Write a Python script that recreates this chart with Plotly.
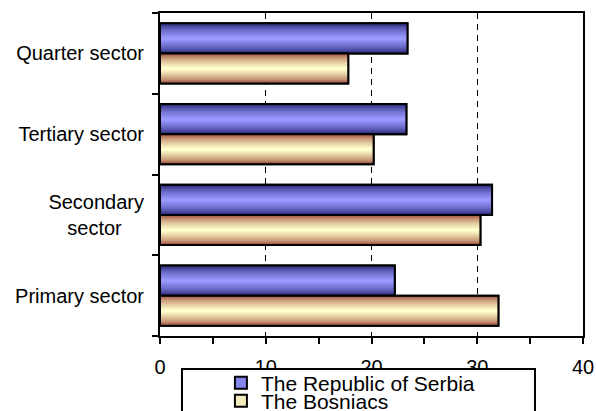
import plotly.graph_objects as go

# ---- data ----
categories = ["Primary sector", "Secondary sector", "Tertiary sector", "Quarter sector"]
tick_labels = ["Primary sector", "Secondary<br>sector\u00a0\u00a0\u00a0\u00a0", "Tertiary sector", "Quarter sector"]
serbia = [22.2, 31.4, 23.3, 23.4]
bosniacs = [32.0, 30.3, 20.2, 17.8]
series_names = ["The Republic of Serbia", "The Bosniacs"]

FONT = "Liberation Sans, Arial, sans-serif"
BAR_W = 0.372
N_LAYERS = 16


def hex2rgb(h):
    h = h.lstrip("#")
    return tuple(int(h[i:i + 2], 16) for i in (0, 2, 4))


def lerp(c1, c2, t):
    a, b = hex2rgb(c1), hex2rgb(c2)
    return "rgb(%d,%d,%d)" % tuple(round(a[i] + (b[i] - a[i]) * t) for i in range(3))


def add_series(fig, values, name, offset, edge, center, swatch, legend_id):
    # legend/base bar
    fig.add_trace(go.Bar(
        y=categories, x=values, orientation="h", name=name,
        offset=offset, width=BAR_W,
        marker=dict(color=swatch, line=dict(color="black", width=2)),
        hoverinfo="skip", showlegend=True, legend=legend_id,
    ))
    # gradient layers (edge dark -> center light)
    for k in range(N_LAYERS):
        d = k / N_LAYERS
        w = BAR_W * (1 - d) - (0.03 if k == 0 else 0)
        off = offset + (BAR_W - w) / 2
        t = (k / (N_LAYERS - 1)) ** 0.6
        fig.add_trace(go.Bar(
            y=categories, x=values, orientation="h",
            offset=off, width=w,
            marker=dict(color=lerp(edge, center, t), line=dict(width=0)),
            hoverinfo="skip", showlegend=False,
        ))
    # outline on top
    fig.add_trace(go.Bar(
        y=categories, x=values, orientation="h",
        offset=offset, width=BAR_W,
        marker=dict(color="rgba(0,0,0,0)", line=dict(color="black", width=2)),
        hoverinfo="skip", showlegend=False,
    ))


fig = go.Figure()
add_series(fig, serbia, series_names[0], 0.0, "#1c1c6a", "#9999ff", "#8585ee", "legend")
add_series(fig, bosniacs, series_names[1], -BAR_W, "#963c2c", "#ffffcc", "#f2ebbc", "legend2")

leg_common = dict(
    xanchor="left", yanchor="middle",
    bgcolor="rgba(0,0,0,0)", borderwidth=0,
    font=dict(family=FONT, size=21, color="black"),
)

fig.update_layout(
    width=596, height=411,
    margin=dict(l=160, r=13, t=13, b=75, autoexpand=False),
    paper_bgcolor="white", plot_bgcolor="white",
    barmode="overlay",
    font=dict(family=FONT, size=20, color="black"),
    showlegend=True,
    legend=dict(x=0.144, y=-0.1455, **leg_common),
    legend2=dict(x=0.144, y=-0.2012, **leg_common),
    shapes=[dict(
        type="rect", xref="paper", yref="paper",
        x0=0.052, x1=0.8865, y0=-0.102, y1=-0.30,
        line=dict(color="black", width=2), fillcolor="white", layer="above",
    )],
)

fig.update_xaxes(
    range=[0, 40], dtick=10, tick0=0,
    showgrid=True, gridcolor="black", gridwidth=1, griddash="6px,5px",
    zeroline=False,
    showline=True, linecolor="black", linewidth=2, mirror=True,
    ticks="outside", ticklen=6, tickwidth=1.5, tickcolor="black",
    minor=dict(dtick=5, ticks="outside", ticklen=6, tickwidth=1.5, tickcolor="black", showgrid=False),
    tickfont=dict(family=FONT, size=20, color="black"),
    ticklabelstandoff=6,
    fixedrange=True,
)
fig.update_yaxes(
    type="category", categoryorder="array", categoryarray=categories,
    tickmode="array", tickvals=categories, ticktext=tick_labels,
    tickson="boundaries",
    showgrid=False, zeroline=False,
    showline=True, linecolor="black", linewidth=2, mirror=True,
    ticks="outside", ticklen=6, tickwidth=2, tickcolor="black",
    ticklabelstandoff=10,
    tickfont=dict(family=FONT, size=20, color="black"),
    range=[-0.5, 3.5],
    fixedrange=True,
)

fig.write_html(
    "out.html",
    config={"displayModeBar": False},
    post_script="document.body.style.margin='0';document.body.style.overflow='hidden';",
)
